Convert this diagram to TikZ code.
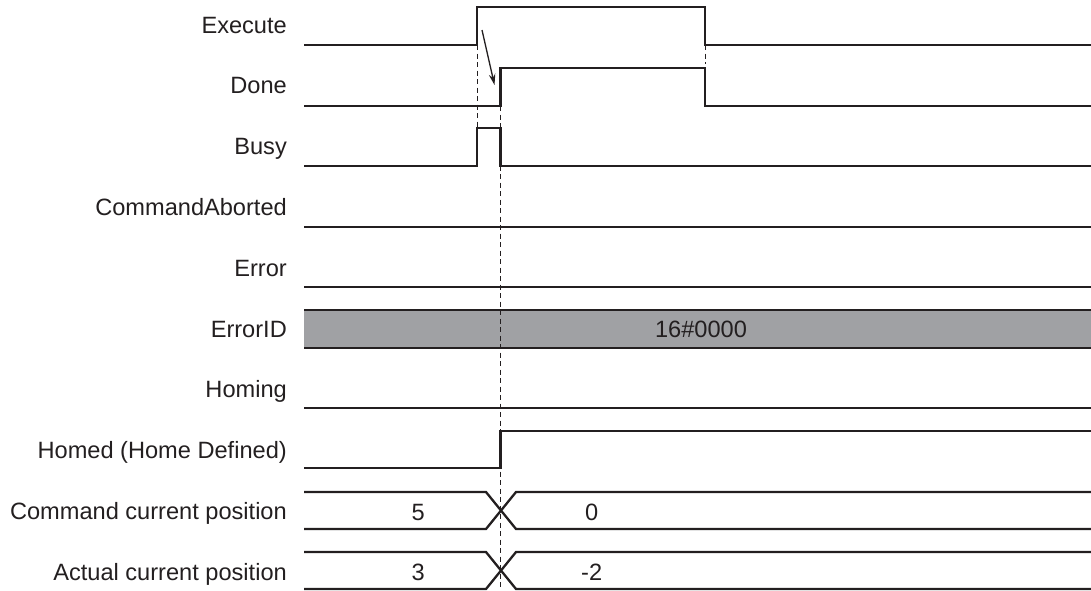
\documentclass[tikz,border=0pt]{standalone}
\usepackage{fontspec}
\setmainfont{Liberation Sans}
\usetikzlibrary{arrows.meta}
\definecolor{ink}{HTML}{231F20}
\definecolor{barfill}{HTML}{A0A1A4}
\begin{document}
\begin{tikzpicture}[x=1pt,y=-1pt,
  sig/.style={draw=ink,line width=2.3pt,line join=miter},
  guide/.style={draw=ink,line width=0.9pt,dash pattern=on 5pt off 3.5pt},
  lbl/.style={anchor=base east,inner sep=0pt,text=ink,font=\fontsize{23.6}{28}\selectfont},
  val/.style={anchor=base,inner sep=0pt,text=ink,font=\fontsize{23.6}{28}\selectfont}]
\useasboundingbox (0,0) rectangle (1091,590);
% labels
\node[lbl] (lExecute) at (287,33) {Execute};
\node[lbl] (lDone) at (287,93.8) {Done};
\node[lbl] (lBusy) at (287,154.6) {Busy};
\node[lbl] (lCA) at (287,215.4) {CommandAborted};
\node[lbl] (lErr) at (287,276.2) {Error};
\node[lbl] (lEID) at (287,337) {ErrorID};
\node[lbl] (lHoming) at (287,397.8) {Homing};
\node[lbl] (lHomed) at (287,458.6) {Homed (Home Defined)};
\node[lbl] (lCmd) at (287,519.4) {Command current position};
\node[lbl] (lAct) at (287,580.2) {Actual current position};
% key coordinates
\coordinate (exRise) at (477,45);
\coordinate (exFall) at (705,45);
\coordinate (dnRise) at (500.5,106);
% Execute
\draw[sig] (304,45) -- (477,45) -- (477,7) -- (705,7) -- (705,45) -- (1091,45);
% Done
\draw[sig] (304,106) -- (500.5,106) -- (500.5,68) -- (705,68) -- (705,106) -- (1091,106);
% Busy
\draw[sig] (304,166) -- (477,166) -- (477,128) -- (500.5,128) -- (500.5,166) -- (1091,166);
% CommandAborted, Error
\draw[sig] (304,227) -- (1091,227);
\draw[sig] (304,287) -- (1091,287);
% ErrorID bar
\fill[barfill] (304,310) rectangle (1091,348);
\draw[sig] (304,310) -- (1091,310);
\draw[sig] (304,348) -- (1091,348);
\node[val] (vEID) at (701,337) {16\#0000};
% Homing
\draw[sig] (304,408) -- (1091,408);
% Homed
\draw[sig] (304,468) -- (500.5,468) -- (500.5,431) -- (1091,431);
% Command current position
\draw[sig] (304,492) -- (486,492) -- (516,529) -- (1091,529);
\draw[sig] (304,529) -- (486,529) -- (516,492) -- (1091,492);
\node[val] (vC1) at (418.3,520) {5};
\node[val] (vC2) at (591.7,520) {0};
% Actual current position
\draw[sig] (304,552) -- (486,552) -- (516,589) -- (1091,589);
\draw[sig] (304,589) -- (486,589) -- (516,552) -- (1091,552);
\node[val] (vA1) at (418.3,580.2) {3};
\node[val] (vA2) at (591.7,580.2) {-2};
% guides
\coordinate (g1e) at (477,128);
\coordinate (g2e) at (500.5,590);
\coordinate (g3e) at (705,64);
\draw[guide] (exRise) -- (g1e);
\draw[guide] (dnRise) -- (g2e);
\draw[guide] (exFall) -- (g3e);
% causal arrow
\coordinate (aS) at (482,30);
\coordinate (aE) at (494.5,85);
\draw[draw=ink,line width=1.3pt,-{Stealth[length=11pt,width=6.5pt]}] (aS) -- (aE);
\end{tikzpicture}
\end{document}
